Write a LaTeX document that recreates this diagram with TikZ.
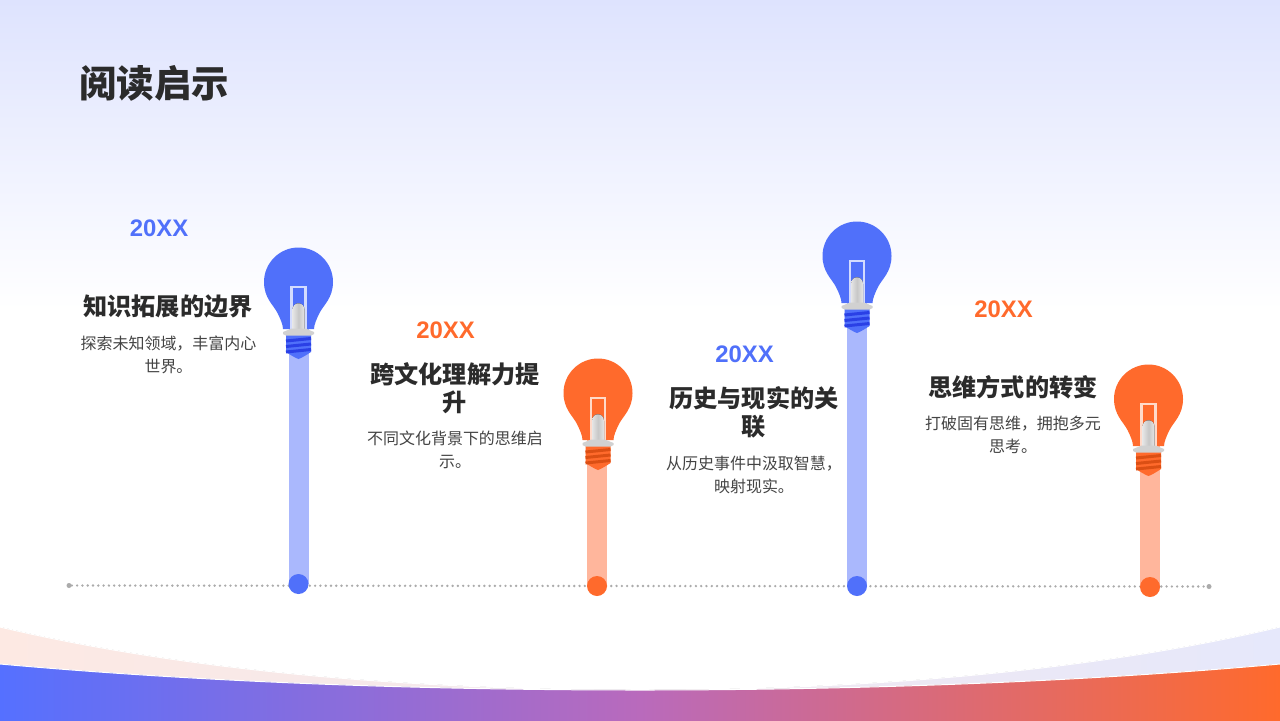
\documentclass[tikz,border=0pt]{standalone}
\usepackage{fontspec}
\setmainfont{Liberation Sans}
\newfontfamily\cjk{Noto Sans CJK SC}
\usepackage{xcolor}
\usepackage{tikz}
\definecolor{myblue}{HTML}{5070FA}
\definecolor{myorange}{HTML}{FF6A2C}
\definecolor{darkblue}{HTML}{2A40E6}
\definecolor{darkorange}{HTML}{DB4F14}
\definecolor{lightblue}{HTML}{AAB8FD}
\definecolor{lightorange}{HTML}{FFB69C}
\definecolor{headtext}{HTML}{2B2B2B}
\definecolor{bodytext}{HTML}{444444}
\definecolor{dotgray}{HTML}{ABABAB}
\definecolor{bgtop}{HTML}{DEE3FE}
\definecolor{swooshl}{HTML}{FDE9E3}
\definecolor{swooshr}{HTML}{E6E8FB}
\definecolor{bandl}{HTML}{5570FF}
\definecolor{bandm}{HTML}{B96ABC}
\tikzset{
  title/.style={anchor=west,inner sep=0,text=headtext,font=\cjk\bfseries\fontsize{21.3}{25}\selectfont},
  year/.style={inner sep=0,font=\bfseries\fontsize{13.6}{16}\selectfont},
  head/.style={inner sep=0,align=center,text=headtext,font=\cjk\bfseries\fontsize{13.75}{16}\selectfont},
  body/.style={inner sep=0,align=center,text=bodytext,font=\cjk\fontsize{9.1}{13.1}\selectfont},
  stem/.style={line width=0.4cm},
  dot/.style={circle,inner sep=0,minimum size=0.4cm},
  tip/.style={circle,fill=dotgray,inner sep=0,minimum size=0.1cm},
  edge/.style={white,line width=0.02cm},
  pics/bulb/.style n args={2}{code={
    \fill[#1] (-15.5,47) .. controls (-15.5,43) and (-18,37) .. (-21,31)
      .. controls (-25,23) and (-34.5,16) .. (-34.5,0)
      .. controls (-34.5,-19) and (-19,-34.5) .. (0,-34.5)
      .. controls (19,-34.5) and (34.5,-19) .. (34.5,0)
      .. controls (34.5,16) and (25,23) .. (21,31)
      .. controls (18,37) and (15.5,43) .. (15.5,47) -- cycle;
    \draw[white!75!#1,line width=0.05cm] (-6.8,47) -- (-6.8,5) -- (6.8,5) -- (6.8,47);
    \fill[left color=white!90!black,right color=white!90!black,middle color=white!78!black]
      (-6,47) -- (-6,28) .. controls (-6,19) and (6,19) .. (6,28) -- (6,47) -- cycle;
    \fill[#1] (-12.5,52) -- (12.5,52) -- (12.5,70) .. controls (8,73) and (3,76) .. (0,77)
      .. controls (-3,76) and (-8,73) .. (-12.5,70) -- cycle;
    \draw[#2,line width=0.06cm] (-12.5,59) -- (12.5,56.5);
    \draw[#2,line width=0.06cm] (-12.5,64.5) -- (12.5,62);
    \draw[#2,line width=0.06cm] (-12.5,70) -- (12.5,67.5);
    \fill[white!82!black] (-15.5,50) -- (-7,46.5) -- (7,46.5) -- (15.5,50) -- (15.5,52) -- (12.5,53.5) -- (-12.5,53.5) -- (-15.5,52) -- cycle;
  }}
}
\begin{document}
\begin{tikzpicture}[x=0.02cm,y=-0.02cm]
    \useasboundingbox (0,0) rectangle (1280,720);
    \fill[white] (0,0) rectangle (1280,720);
    \fill[top color=bgtop,bottom color=white] (0,0) rectangle (1280,310);

    \fill[left color=swooshl,right color=swooshr,middle color=swooshl!50!swooshr] (0,627) .. controls (190,672) and (420,690) .. (640,690)
      .. controls (860,690) and (1090,672) .. (1280,627) -- (1280,725) -- (0,725) -- cycle;
    \draw[edge] (0,627) .. controls (190,672) and (420,690) .. (640,690)
      .. controls (860,690) and (1090,672) .. (1280,627);
    \fill[left color=bandl,right color=myorange,middle color=bandm] (0,664) .. controls (200,682) and (420,690) .. (640,690)
      .. controls (860,690) and (1080,682) .. (1280,664) -- (1280,725) -- (0,725) -- cycle;
    \draw[edge] (0,664) .. controls (200,682) and (420,690) .. (640,690)
      .. controls (860,690) and (1080,682) .. (1280,664);

    \node[tip] (tl) at (69,585.5) {};
    \node[tip] (tr) at (1209,586.5) {};
    \draw[dotgray,line width=1.5pt,line cap=round,dash pattern=on 0.01pt off 3pt] (tl) -- (tr);

    \coordinate (b1) at (298.5,282);
    \coordinate (b2) at (598,393);
    \coordinate (b3) at (857,256);
    \coordinate (b4) at (1148.5,399);
    \coordinate (p1) at (298.5,584);
    \coordinate (p2) at (597,586);
    \coordinate (p3) at (857,586);
    \coordinate (p4) at (1150,587);

    \draw[stem,lightblue] (p1 |- b1) -- (p1);
    \draw[stem,lightorange] (p2 |- b2) -- (p2);
    \draw[stem,lightblue] (p3 |- b3) -- (p3);
    \draw[stem,lightorange] (p4 |- b4) -- (p4);

    \pic at (b1) {bulb={myblue}{darkblue}};
    \pic at (b2) {bulb={myorange}{darkorange}};
    \pic at (b3) {bulb={myblue}{darkblue}};
    \pic at (b4) {bulb={myorange}{darkorange}};

    \node[dot,fill=myblue] (d1) at (p1) {};
    \node[dot,fill=myorange] (d2) at (p2) {};
    \node[dot,fill=myblue] (d3) at (p3) {};
    \node[dot,fill=myorange] (d4) at (p4) {};

    \node[title] (t) at (79,83) {阅读启示};

    \node[year,text=myblue] (y1) at (159,228) {20XX};
    \node[head] (h1) at (168,306) {知识拓展的边界};
    \node[body] (c1) at (168.5,354.5) {探索未知领域，丰富内心\\世界。};

    \node[year,text=myorange] (y2) at (445.5,330) {20XX};
    \node[head] (h2) at (455,388) {跨文化理解力提\\升};
    \node[body] (c2) at (455,450) {不同文化背景下的思维启\\示。};

    \node[year,text=myblue] (y3) at (744.5,354) {20XX};
    \node[head] (h3) at (754,412) {历史与现实的关\\联};
    \node[body] (c3) at (754,474.5) {从历史事件中汲取智慧，\\映射现实。};

    \node[year,text=myorange] (y4) at (1003.5,309) {20XX};
    \node[head] (h4) at (1013,387) {思维方式的转变};
    \node[body] (c4) at (1013,434.5) {打破固有思维，拥抱多元\\思考。};
\end{tikzpicture}
\end{document}
